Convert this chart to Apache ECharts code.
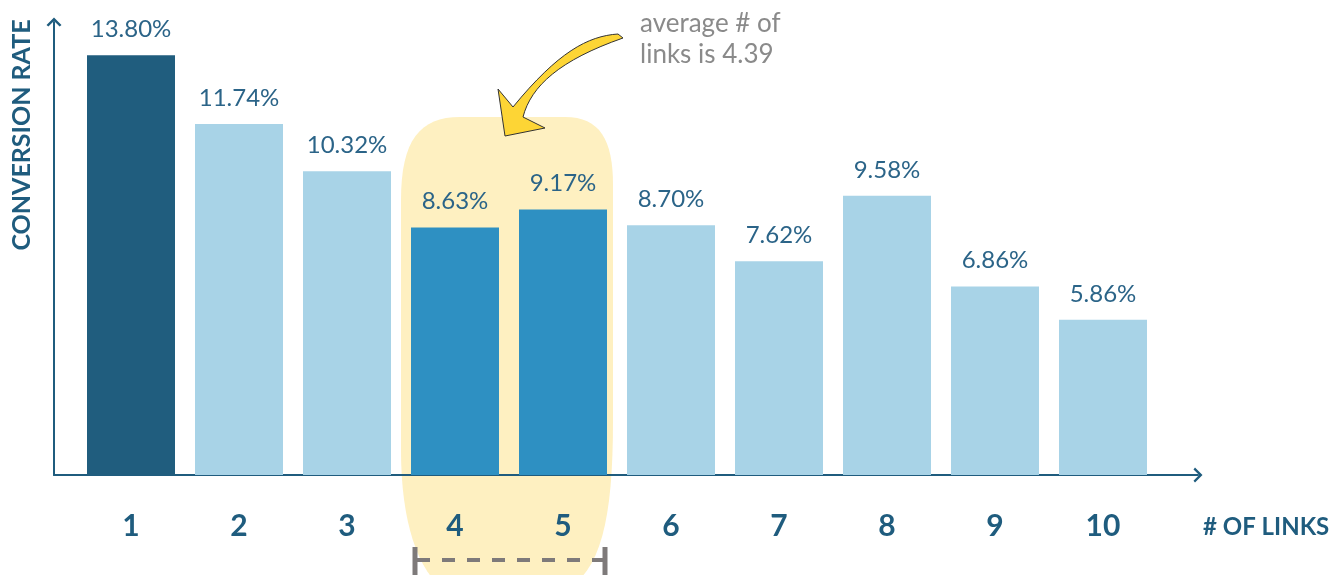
<!DOCTYPE html>
<html>
<head>
<meta charset="utf-8">
<script src="https://cdn.jsdelivr.net/npm/echarts@6/dist/echarts.min.js"></script>
<style>
  html, body { margin: 0; padding: 0; background: #fff; }
  #chart { width: 1336px; height: 575px; }
</style>
</head>
<body>
<div id="chart"></div>
<script>
// data
const categories = ['1', '2', '3', '4', '5', '6', '7', '8', '9', '10'];
const rates = [13.80, 11.74, 10.32, 8.63, 9.17, 8.70, 7.62, 9.58, 6.86, 5.86];
const highlighted = ['4', '5'];
const avgLinks = 4.39;

// colours
const axisColor = '#1f5c7e';
const labelColor = '#2b6488';
const darkBar = '#205d7e';
const midBar = '#2e90c2';
const lightBar = '#a8d3e7';
// chevron arrow used at the end of both axes
const chevron = 'path://M0,10 L10,0 L20,10 L17.5,12 L10,4.5 L2.5,12 Z';

// turn a list of line / cubic segments into polygon points
function outline(start, segs) {
  const pts = [start];
  let p0 = start;
  segs.forEach(s => {
    if (s.length === 1) {
      pts.push(s[0]);
      p0 = s[0];
    } else {
      const [c1, c2, p3] = s;
      for (let i = 1; i <= 16; i++) {
        const t = i / 16, u = 1 - t;
        pts.push([
          u * u * u * p0[0] + 3 * u * u * t * c1[0] + 3 * u * t * t * c2[0] + t * t * t * p3[0],
          u * u * u * p0[1] + 3 * u * u * t * c1[1] + 3 * u * t * t * c2[1] + t * t * t * p3[1]
        ]);
      }
      p0 = p3;
    }
  });
  return pts;
}

const myChart = echarts.init(document.getElementById('chart'));

const option = {
  animation: false,
  textStyle: { fontFamily: 'Lato' },
  grid: [
    { left: 77, right: 179, top: 22, bottom: 100 },
    { left: 54, right: 138, top: 22, bottom: 100 }
  ],
  xAxis: [
    {
      type: 'category',
      data: categories,
      gridIndex: 0,
      axisLine: { show: false },
      axisTick: { show: false },
      axisLabel: {
        margin: 36,
        fontSize: 30,
        fontWeight: 'bold',
        color: axisColor
      }
    },
    {
      // only draws the long x axis line with its arrow
      type: 'value',
      gridIndex: 1,
      min: 0,
      max: 1,
      axisLine: {
        show: true,
        symbol: ['none', chevron],
        symbolSize: [15, 9],
        lineStyle: { color: axisColor, width: 2 }
      },
      axisTick: { show: false },
      axisLabel: { show: false },
      splitLine: { show: false },
      name: '# OF LINKS',
      nameLocation: 'end',
      nameGap: 5,
      nameTextStyle: {
        fontSize: 24,
        fontWeight: 'bold',
        color: axisColor,
        verticalAlign: 'top',
        padding: [40, 0, 0, 0]
      }
    }
  ],
  yAxis: [
    {
      type: 'value',
      gridIndex: 0,
      min: 1.2,
      max: 14.8,
      offset: 23,
      axisLine: {
        show: true,
        symbol: ['none', chevron],
        symbolSize: [15, 9],
        lineStyle: { color: axisColor, width: 2 }
      },
      axisTick: { show: false },
      axisLabel: { show: false },
      splitLine: { show: false }
    },
    { type: 'value', gridIndex: 1, show: false }
  ],
  series: [
    {
      type: 'bar',
      xAxisIndex: 0,
      yAxisIndex: 0,
      data: rates,
      barWidth: 88,
      z: 3,
      itemStyle: {
        color: p => (p.dataIndex === 0 ? darkBar : highlighted.includes(p.name) ? midBar : lightBar)
      },
      label: {
        show: true,
        position: 'top',
        distance: 14,
        fontSize: 24,
        color: labelColor,
        formatter: p => p.value.toFixed(2) + '%'
      }
    }
  ]
};

myChart.setOption(option);

// annotations placed relative to the highlighted categories
const x4 = myChart.convertToPixel({ xAxisIndex: 0 }, highlighted[0]);
const x5 = myChart.convertToPixel({ xAxisIndex: 0 }, highlighted[1]);
const L = x4 - 54;
const R = x5 + 50;
const T = 117;
const B = 592;

const bandShape = outline([L, 200], [
  [[L, 140], [L + 19, T], [L + 59, T]],
  [[R - 48, T]],
  [[R - 13, T], [R, 140], [R, 185]],
  [[R, 420]],
  [[R, 520], [R - 12, 572], [R - 50, B]],
  [[L + 46, B]],
  [[L + 16, 572], [L, 520], [L, 450]]
]);

const arrowShape = outline([618, 34], [
  [[588, 36], [558, 52], [513, 107]],
  [[498, 89]],
  [[505, 136]],
  [[545, 128]],
  [[523, 117]],
  [[531, 86], [560, 60], [623, 38]]
]);

myChart.setOption({
  graphic: [
    {
      type: 'polygon',
      z: -10,
      shape: { points: bandShape },
      style: { fill: '#fef0c1' }
    },
    {
      type: 'polygon',
      z: 100,
      shape: { points: arrowShape },
      style: { fill: '#fdd535', stroke: '#333', lineWidth: 1 }
    },
    {
      type: 'text',
      x: 640,
      y: 8,
      style: {
        text: 'average # of\nlinks is ' + avgLinks,
        font: '26px Lato',
        fill: '#8a8a8a',
        lineHeight: 31
      }
    },
    {
      type: 'text',
      x: 22,
      y: 135,
      rotation: Math.PI / 2,
      style: {
        text: 'CONVERSION RATE',
        font: 'bold 25px Lato',
        fill: axisColor,
        align: 'center',
        verticalAlign: 'middle'
      }
    },
    {
      type: 'line',
      shape: { x1: x4 - 38, y1: 560, x2: x5 + 40, y2: 560 },
      style: { stroke: '#7e7a7a', lineWidth: 4, lineDash: [13, 12] }
    },
    {
      type: 'line',
      shape: { x1: x4 - 40, y1: 547, x2: x4 - 40, y2: 575 },
      style: { stroke: '#7e7a7a', lineWidth: 5 }
    },
    {
      type: 'line',
      shape: { x1: x5 + 42, y1: 547, x2: x5 + 42, y2: 575 },
      style: { stroke: '#7e7a7a', lineWidth: 5 }
    }
  ]
});
</script>
</body>
</html>
